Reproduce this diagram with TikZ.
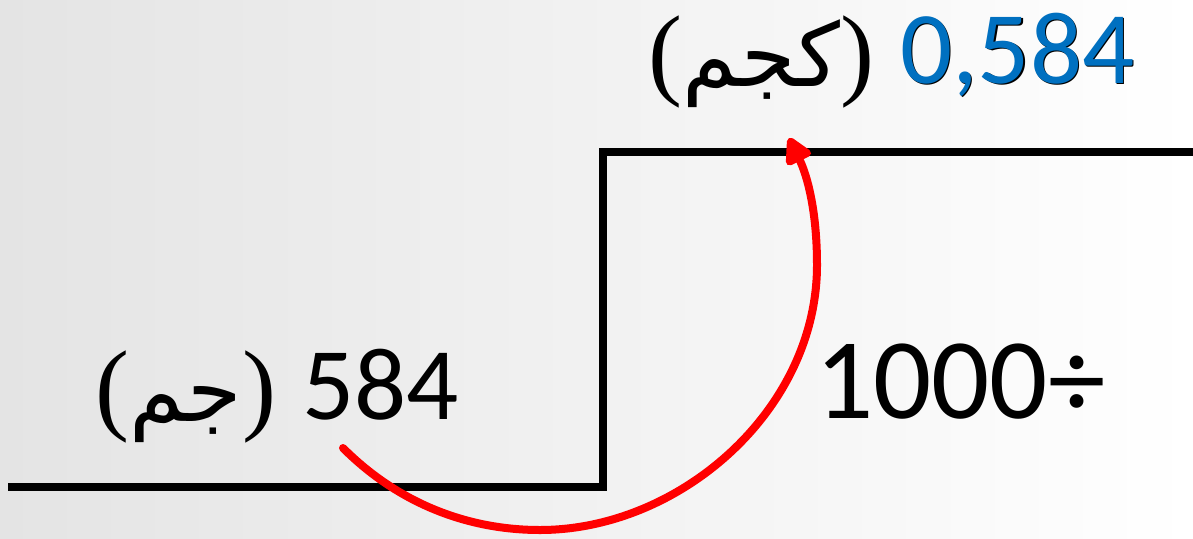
\documentclass[tikz,border=0pt]{standalone}
\usepackage{fontspec}
\setmainfont{Carlito}
\newfontfamily\arabicfont[Script=Arabic]{DejaVu Sans}
\newfontfamily\parenfont{Liberation Serif}
\TeXXeTstate=1
\usetikzlibrary{arrows.meta}
\definecolor{numblue}{HTML}{0070C0}
\definecolor{bgleft}{HTML}{E4E4E4}
\definecolor{arrowred}{HTML}{FF0000}
\newcommand{\prn}[1]{{\parenfont\fontsize{102}{104}\selectfont #1}}
\begin{document}
\begin{tikzpicture}[x=1pt,y=-1pt,
  lbl/.style={inner sep=0pt, outer sep=0pt},
  bignum/.style={lbl, font=\fontsize{103}{110}\selectfont},
  unitlbl/.style={lbl, font=\fontsize{88}{100}\selectfont},
  stepline/.style={line width=8.5pt, black, line join=miter},
  convarrow/.style={arrowred, line width=8pt, line cap=round,
    -{Triangle[length=30pt,width=30pt,round]}}]
\shade[left color=bgleft, right color=white] (0,0) rectangle (1193,538);
\useasboundingbox (0,0) rectangle (1193,538);

% step
\draw[stepline] (8,487) -- (603,487) -- (603,152) -- (1193,152);

% top label
\node[bignum, anchor=base west, text=black] (kgshadow) at (901.5,84.5) {0,584};
\node[bignum, anchor=base west, text=numblue] (kgnum) at (900,83) {0,584};
\node[unitlbl, anchor=base east] (kgunit) at (874,86)
  {\prn{(}{\arabicfont\beginR كجم\endR}\prn{)}};

% left label
\node[bignum, anchor=base west] (gnum) at (302,419) {584};
\node[unitlbl, anchor=base east] (gunit) at (276,421)
  {\prn{(}{\arabicfont\beginR جم\endR}\prn{)}};

% divisor
\node[lbl, anchor=base west, font=\fontsize{115}{120}\selectfont] (div) at (815,418) {1000÷};

% arrow
\coordinate (src) at (343,448);
\coordinate (dst) at (789,138);
\draw[convarrow] (src) .. controls (400,505) and (470,530) .. (540,530)
  .. controls (680,530) and (817,410) .. (817,265)
  .. controls (817,210) and (807,175) .. (dst);
\end{tikzpicture}
\end{document}
